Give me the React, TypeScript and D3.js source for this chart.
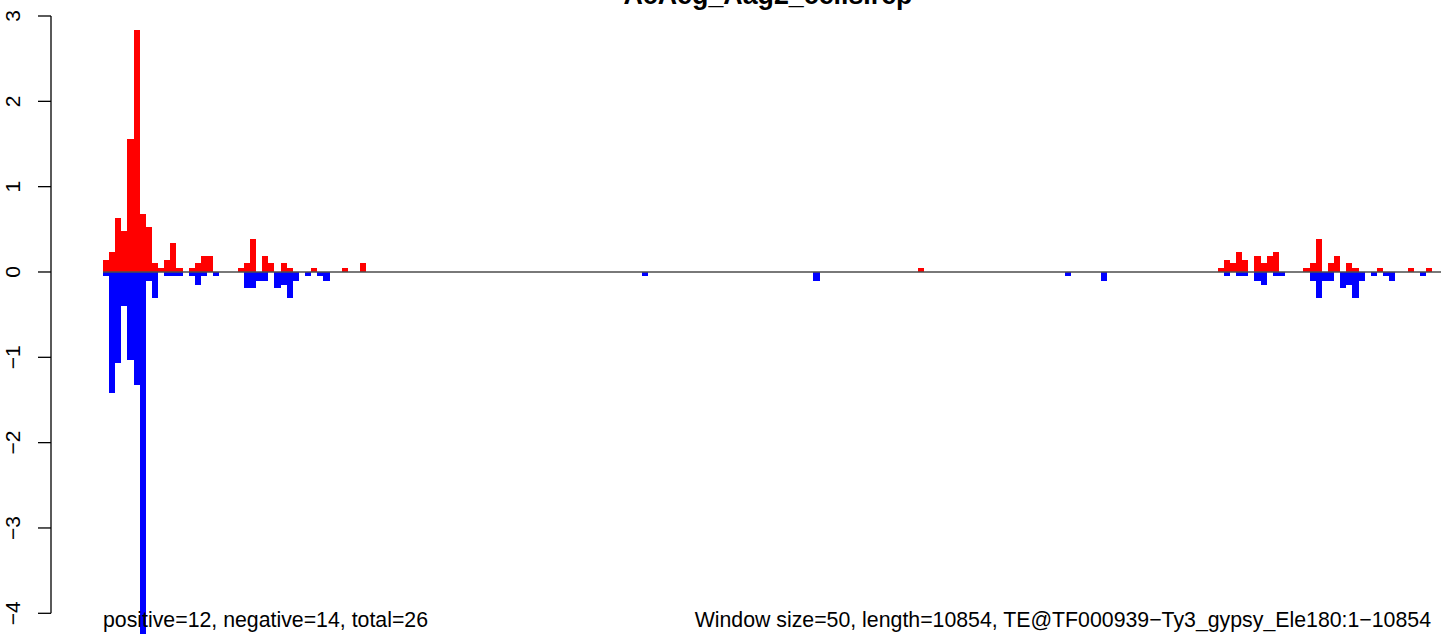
import React from "react";
import * as d3 from "d3";

const TITLE = "AcAeg_Aag2_cells.rep";
const LEFT_NOTE = "positive=12, negative=14, total=26";
const RIGHT_NOTE = "Window size=50, length=10854, TE@TF000939\u2212Ty3_gypsy_Ele180:1\u221210854";
const N_BINS = 217;

const yTicks = [-4, -3, -2, -1, 0, 1, 2, 3];

const posBins = [0, 1, 2, 3, 4, 5, 6, 7, 8, 9, 10, 11, 12, 14, 15, 16, 17, 22, 23, 24, 26, 27, 29, 30, 34, 39, 42, 133, 182, 183, 184, 185, 186, 188, 189, 190, 191, 196, 197, 198, 200, 201, 203, 204, 208, 213, 216];
const posValues = [0.14, 0.23, 0.63, 0.48, 1.56, 2.84, 0.68, 0.53, 0.10, 0.05, 0.14, 0.34, 0.05, 0.05, 0.10, 0.19, 0.19, 0.05, 0.10, 0.39, 0.19, 0.10, 0.10, 0.05, 0.05, 0.05, 0.10, 0.05, 0.05, 0.14, 0.10, 0.23, 0.14, 0.19, 0.10, 0.19, 0.23, 0.05, 0.10, 0.39, 0.10, 0.19, 0.10, 0.05, 0.05, 0.05, 0.05];

const negBins = [0, 1, 2, 3, 4, 5, 6, 7, 8, 10, 11, 12, 14, 15, 16, 18, 23, 24, 25, 26, 28, 29, 30, 31, 33, 35, 36, 88, 116, 157, 163, 183, 185, 186, 188, 189, 191, 192, 197, 198, 199, 200, 202, 203, 204, 205, 207, 209, 210, 215];
const negValues = [-0.05, -1.42, -1.07, -0.40, -1.03, -1.32, -4.4, -0.10, -0.30, -0.05, -0.05, -0.05, -0.05, -0.15, -0.05, -0.05, -0.19, -0.19, -0.10, -0.10, -0.19, -0.15, -0.30, -0.10, -0.05, -0.05, -0.10, -0.05, -0.10, -0.05, -0.10, -0.05, -0.05, -0.05, -0.10, -0.15, -0.05, -0.05, -0.10, -0.30, -0.10, -0.10, -0.19, -0.15, -0.30, -0.10, -0.05, -0.05, -0.10, -0.05];

const W = 1441;
const H = 634;
const FONT = "'Liberation Sans', Arial, Helvetica, sans-serif";

export default function App() {
  const x = d3.scaleLinear().domain([0, N_BINS]).range([103, 1432.1]);
  const y = d3.scaleLinear().domain([-4, 3]).range([613.3, 16]);
  const axisX = 51;
  const y0 = y(0);

  const pos = posBins.map((b, i) => ({ b, v: posValues[i] }));
  const neg = negBins.map((b, i) => ({ b, v: negValues[i] }));

  return (
    <svg
      width={W}
      height={H}
      style={{ position: "absolute", left: 0, top: 0, background: "#fff" }}
      fontFamily={FONT}
    >
      <rect x={0} y={0} width={W} height={H} fill="#fff" />
      {pos.map((d) => (
        <rect
          key={"p" + d.b}
          x={x(d.b)}
          width={x(d.b + 1) - x(d.b)}
          y={y(d.v)}
          height={y0 - y(d.v)}
          fill="#ff0000"
          shapeRendering="crispEdges"
        />
      ))}
      {neg.map((d) => (
        <rect
          key={"n" + d.b}
          x={x(d.b)}
          width={x(d.b + 1) - x(d.b)}
          y={y0}
          height={y(d.v) - y0}
          fill="#0000ff"
          shapeRendering="crispEdges"
        />
      ))}
      <line x1={x(0)} x2={W} y1={y0} y2={y0} stroke="#4d4d4d" strokeWidth={1.3} />
      {/* y axis */}
      <line x1={axisX} x2={axisX} y1={y(3)} y2={y(-4)} stroke="#000" strokeWidth={1.3} />
      {yTicks.map((t) => (
        <g key={t}>
          <line x1={axisX - 13} x2={axisX} y1={y(t)} y2={y(t)} stroke="#000" strokeWidth={1.3} />
          <text
            transform={`translate(20,${y(t)}) rotate(-90)`}
            textAnchor="middle"
            fontSize={21}
            fill="#000"
          >
            {t < 0 ? "\u2212" + Math.abs(t) : String(t)}
          </text>
        </g>
      ))}
      <text x={768} y={4} textAnchor="middle" fontSize={26.8} fontWeight="bold" fill="#000">
        {TITLE}
      </text>
      <text x={103} y={627} fontSize={21.3} fill="#000">
        {LEFT_NOTE}
      </text>
      <text x={1431} y={627} textAnchor="end" fontSize={21.3} fill="#000">
        {RIGHT_NOTE}
      </text>
    </svg>
  );
}
